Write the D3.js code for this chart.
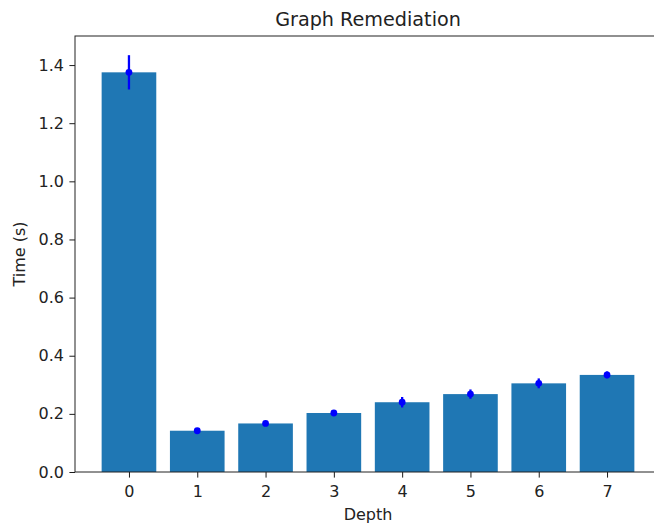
<!DOCTYPE html>
<html>
<head>
<meta charset="utf-8">
<script src="https://cdn.jsdelivr.net/npm/d3@7"></script>
<style>
  body { margin: 0; background: #fff; }
  svg { font-family: "DejaVu Sans", sans-serif; }
</style>
</head>
<body>
<div id="chart"></div>
<script>
var totalWidth = 654;
var totalHeight = 524;

var margin = { top: 36, left: 75, bottom: 52, right: -7 };
var width = totalWidth - margin.left - margin.right;
var height = totalHeight - margin.top - margin.bottom;

// data
var depths = [0, 1, 2, 3, 4, 5, 6, 7];
var times = [1.375, 0.142, 0.167, 0.203, 0.240, 0.268, 0.305, 0.334];
var errors = [0.059, 0.005, 0.006, 0.006, 0.018, 0.016, 0.017, 0.012];
var yTicks = [0, 0.2, 0.4, 0.6, 0.8, 1.0, 1.2, 1.4];

var xScale = d3.scaleLinear().domain([-0.79, 7.79]).range([0, width]);
var yScale = d3.scaleLinear().domain([0, 1.5]).range([height, 0]);
var barW = xScale(0.8) - xScale(0);

var svg = d3.select("#chart").append("svg")
  .attr("width", totalWidth)
  .attr("height", totalHeight);

var g = svg.append("g")
  .attr("transform", "translate(" + margin.left + "," + margin.top + ")");

// bars
g.selectAll("rect.bar")
  .data(depths)
  .enter()
  .append("rect")
  .attr("class", "bar")
  .attr("x", function(d) { return xScale(d) - barW / 2; })
  .attr("y", function(d, i) { return yScale(times[i]); })
  .attr("width", barW)
  .attr("height", function(d, i) { return yScale(0) - yScale(times[i]); })
  .attr("fill", "#1f77b4");

// error bars
g.selectAll("line.err")
  .data(depths)
  .enter()
  .append("line")
  .attr("class", "err")
  .attr("x1", function(d) { return xScale(d); })
  .attr("x2", function(d) { return xScale(d); })
  .attr("y1", function(d, i) { return yScale(times[i] - errors[i]); })
  .attr("y2", function(d, i) { return yScale(times[i] + errors[i]); })
  .attr("stroke", "#0000ff")
  .attr("stroke-width", 2.3);

g.selectAll("circle.mean")
  .data(depths)
  .enter()
  .append("circle")
  .attr("class", "mean")
  .attr("cx", function(d) { return xScale(d); })
  .attr("cy", function(d, i) { return yScale(times[i]); })
  .attr("r", 3.4)
  .attr("fill", "#0000ff");

// axes
var xAxis = d3.axisBottom(xScale).tickValues(depths).tickSize(5.6).tickPadding(8)
  .tickFormat(d3.format("d"));
var yAxis = d3.axisLeft(yScale).tickValues(yTicks).tickSize(5.6).tickPadding(5.5)
  .tickFormat(d3.format(".1f"));

function styleAxis(a) {
  a.select(".domain").remove();
  a.selectAll(".tick line").attr("stroke", "#000").attr("stroke-width", 0.9);
  a.selectAll(".tick text").attr("font-size", 16).attr("fill", "#222")
    .attr("font-family", "DejaVu Sans");
}

g.append("g")
  .attr("transform", "translate(0," + height + ")")
  .call(xAxis)
  .call(styleAxis);

g.append("g")
  .call(yAxis)
  .call(styleAxis);

// spines
g.append("rect")
  .attr("x", 0).attr("y", 0)
  .attr("width", width).attr("height", height)
  .attr("fill", "none")
  .attr("stroke", "#222")
  .attr("stroke-width", 1);

// labels
svg.append("text")
  .attr("x", margin.left + width / 2)
  .attr("y", 25.5)
  .attr("text-anchor", "middle")
  .attr("font-size", 19.2)
  .attr("fill", "#222")
  .text("Graph Remediation");

svg.append("text")
  .attr("x", margin.left + width / 2)
  .attr("y", 519.5)
  .attr("text-anchor", "middle")
  .attr("font-size", 16)
  .attr("fill", "#222")
  .text("Depth");

svg.append("text")
  .attr("transform", "translate(25," + (margin.top + height / 2) + ") rotate(-90)")
  .attr("text-anchor", "middle")
  .attr("font-size", 16)
  .attr("fill", "#222")
  .text("Time (s)");
</script>
</body>
</html>
